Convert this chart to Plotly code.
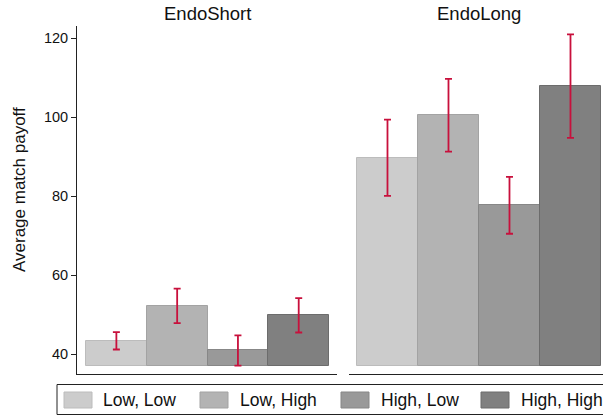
import plotly.graph_objects as go

# ---- data ----
panels = ["EndoShort", "EndoLong"]
series = ["Low, Low", "Low, High", "High, Low", "High, High"]
short_means = [43.4, 52.3, 41.0, 49.9]
short_upper = [45.6, 56.6, 44.8, 54.2]
short_lower = [41.2, 47.9, 37.1, 45.5]
long_means = [89.8, 100.6, 77.7, 107.8]
long_upper = [99.4, 109.7, 84.9, 121.0]
long_lower = [80.1, 91.3, 70.5, 94.8]
y_ticks = [40, 60, 80, 100, 120]

# ---- style ----
W, H = 603, 416
# plot area in screen pixels
SX0, SX1, SY0, SY1 = 77, 603, 26, 374
ML, MT = SX0, SY0
MR = W - SX1
MB = H - SY1
PW, PH = SX1 - SX0, SY1 - SY0
fills = ["#cccccc", "#b3b3b3", "#999999", "#808080"]
edges = ["#bcbcbc", "#a3a3a3", "#878787", "#6c6c6c"]
err_color = "#c8103c"
FONT = "Liberation Sans, Arial, sans-serif"
BASE = 37


def px_x(x):
    return (x - SX0) / PW


def px_y(y):
    return (SY1 - y) / PH


fig = go.Figure()
data_sets = [(short_means, short_upper, short_lower), (long_means, long_upper, long_lower)]
for k, (m, up, lo) in enumerate(data_sets):
    xa = "x" if k == 0 else "x2"
    ya = "y" if k == 0 else "y2"
    fig.add_trace(go.Bar(
        x=list(range(len(series))),
        y=[v - BASE for v in m],
        base=BASE,
        width=1,
        marker=dict(color=fills, line=dict(color=edges, width=1)),
        error_y=dict(type="data", symmetric=False,
                     array=[u - v for u, v in zip(up, m)],
                     arrayminus=[v - l for v, l in zip(m, lo)],
                     color=err_color, thickness=1.8, width=3.5),
        xaxis=xa, yaxis=ya, showlegend=False, hoverinfo="skip",
    ))

yrange = [35.0, 123.1]
fig.update_layout(
    width=W, height=H,
    margin=dict(l=ML, r=MR, t=MT, b=MB),
    paper_bgcolor="white", plot_bgcolor="white",
    font=dict(family=FONT, color="#111111"),
    bargap=0,
    xaxis=dict(domain=[0, px_x(337)], range=[-0.648, 3.63], showline=True,
               linecolor="#222222", linewidth=1, showticklabels=False,
               ticks="", showgrid=False, zeroline=False),
    xaxis2=dict(domain=[px_x(349), 1], range=[-0.631, 3.533], showline=True,
                linecolor="#222222", linewidth=1, showticklabels=False,
                ticks="", showgrid=False, zeroline=False, anchor="y2"),
    yaxis=dict(range=yrange, tickvals=y_ticks, ticks="outside", ticklen=5,
               tickcolor="#222222", showline=True, linecolor="#222222",
               linewidth=1, showgrid=False, zeroline=False,
               tickfont=dict(size=14.5, family=FONT, color="#111111")),
    yaxis2=dict(range=yrange, anchor="x2", showline=False, showticklabels=False,
                ticks="", showgrid=False, zeroline=False),
)

annotations = []
# panel titles
for name, cx in zip(panels, [207, 479]):
    annotations.append(dict(text=name, x=px_x(cx), y=px_y(13), xref="paper", yref="paper",
                            showarrow=False, xanchor="center", yanchor="middle",
                            font=dict(size=18.5, family=FONT, color="#111111")))
# y-axis label
annotations.append(dict(text="Average match payoff", x=px_x(19), y=px_y(190),
                        xref="paper", yref="paper", showarrow=False, textangle=-90,
                        xanchor="center", yanchor="middle",
                        font=dict(size=17, family=FONT, color="#111111")))

shapes = []
# legend box
shapes.append(dict(type="rect", xref="paper", yref="paper",
                   x0=px_x(57), x1=px_x(612), y0=px_y(384.5), y1=px_y(414.5),
                   line=dict(color="#222222", width=1), fillcolor="white"))
sw_x = [64, 200, 341, 481]
tx_x = [101, 238, 379, 519]
for i, name in enumerate(series):
    shapes.append(dict(type="rect", xref="paper", yref="paper",
                       x0=px_x(sw_x[i]), x1=px_x(sw_x[i] + 28),
                       y0=px_y(392), y1=px_y(408),
                       line=dict(color=edges[i], width=1), fillcolor=fills[i]))
    annotations.append(dict(text=name, x=px_x(tx_x[i]), y=px_y(400), xref="paper", yref="paper",
                            showarrow=False, xanchor="left", yanchor="middle",
                            font=dict(size=17.5, family=FONT, color="#111111")))

fig.update_layout(annotations=annotations, shapes=shapes)
fig.write_html("out.html", config={"displayModeBar": False},
               post_script="document.body.style.margin='0';document.body.style.overflow='hidden';")
